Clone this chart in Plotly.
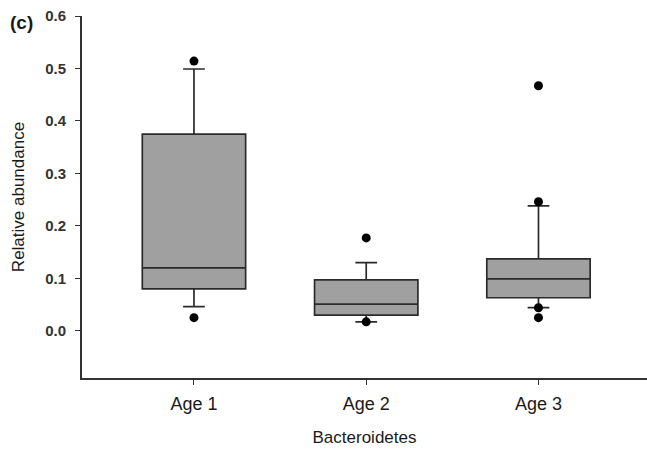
import plotly.graph_objects as go

# Relative abundance of Bacteroidetes by age group (box summary statistics)
groups = ["Age 1", "Age 2", "Age 3"]
positions = [1, 2, 3]
q1 = [0.080, 0.030, 0.063]
median = [0.120, 0.051, 0.099]
q3 = [0.375, 0.097, 0.137]
lower_fence = [0.046, 0.017, 0.044]
upper_fence = [0.499, 0.130, 0.238]

# Points outside the whiskers
outlier_x = [1, 1, 2, 2, 3, 3, 3, 3]
outlier_y = [0.514, 0.025, 0.177, 0.017, 0.467, 0.246, 0.044, 0.025]

y_ticks = [0.0, 0.1, 0.2, 0.3, 0.4, 0.5, 0.6]

fig = go.Figure()

fig.add_trace(go.Box(
    x=positions,
    q1=q1,
    median=median,
    q3=q3,
    lowerfence=lower_fence,
    upperfence=upper_fence,
    width=0.6,
    whiskerwidth=0.21,
    fillcolor="#a0a0a0",
    line=dict(color="#2b2b2b", width=1.7),
    boxpoints=False,
    showlegend=False,
    hoverinfo="skip",
))

fig.add_trace(go.Scatter(
    x=outlier_x,
    y=outlier_y,
    mode="markers",
    marker=dict(color="black", size=9, symbol="circle"),
    showlegend=False,
    hoverinfo="skip",
))

axis_font = dict(family="Liberation Sans, Arial, sans-serif", color="#1a1a1a")

fig.update_layout(
    width=647,
    height=452,
    margin=dict(l=82, r=0, t=16, b=74),
    paper_bgcolor="white",
    plot_bgcolor="white",
    font=axis_font,
    xaxis=dict(
        range=[0.35, 3.63],
        tickmode="array",
        tickvals=positions,
        ticktext=groups,
        ticks="outside",
        ticklen=5,
        tickwidth=1,
        tickcolor="#333",
        ticklabelstandoff=4,
        showline=True,
        linecolor="#333",
        linewidth=1.7,
        showgrid=False,
        zeroline=False,
        tickfont=dict(size=18, color="#1a1a1a"),
        title=dict(text="Bacteroidetes", font=dict(size=17, color="#1a1a1a"), standoff=18),
    ),
    yaxis=dict(
        range=[-0.09, 0.6],
        tickmode="array",
        tickvals=y_ticks,
        ticktext=[f"{v:.1f}" for v in y_ticks],
        ticks="outside",
        ticklen=5,
        tickwidth=1,
        tickcolor="#333",
        ticklabelstandoff=6,
        showline=True,
        linecolor="#333",
        linewidth=1.7,
        showgrid=False,
        zeroline=False,
        tickfont=dict(size=15, color="#333", weight="bold"),
        title=dict(text="Relative abundance", font=dict(size=17, color="#1a1a1a"), standoff=16),
    ),
    annotations=[dict(
        text="<b>(c)</b>",
        xref="paper", yref="paper",
        x=-0.131, y=0.983,
        xanchor="left", yanchor="middle",
        showarrow=False,
        font=dict(size=19, color="#1a1a1a"),
    )],
)

fig.write_html("out.html")
